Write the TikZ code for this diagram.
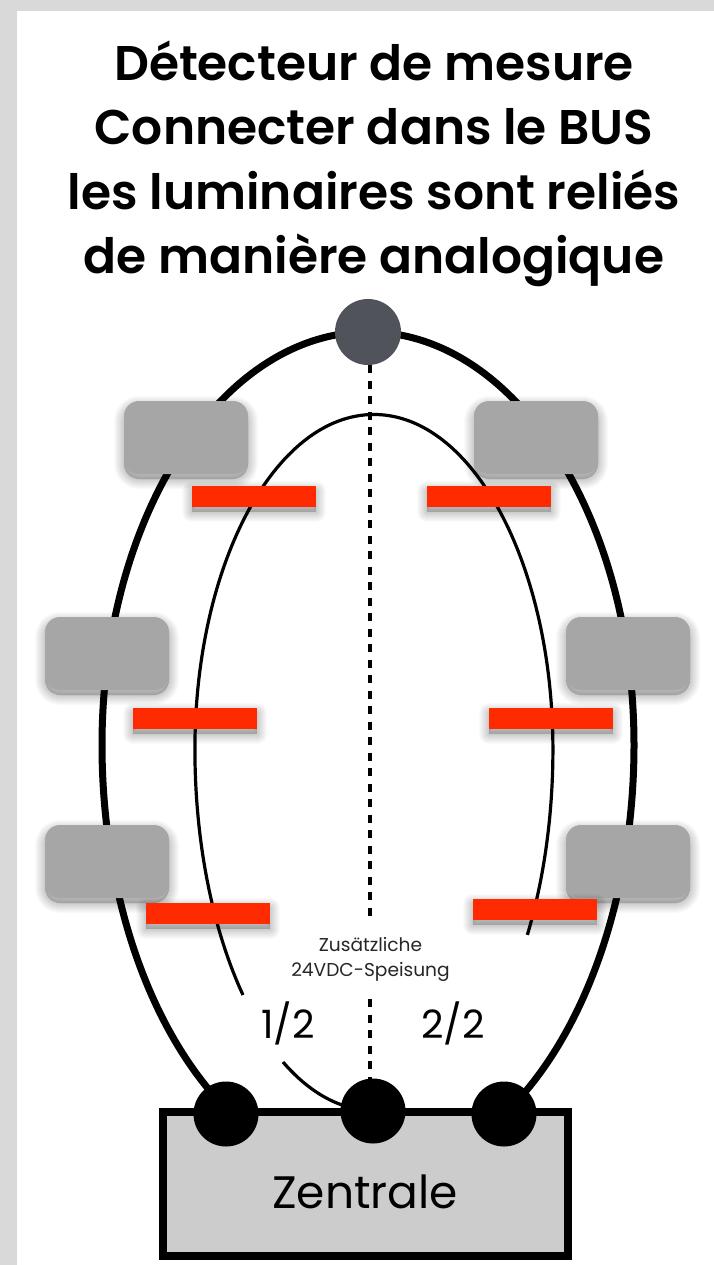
\documentclass[tikz,border=0pt]{standalone}
\usepackage{fontspec}
\setmainfont{Poppins}[BoldFont={Poppins SemiBold}]
\usetikzlibrary{calc}
\definecolor{pagegrey}{HTML}{D9D9D9}
\definecolor{lampgrey}{HTML}{A6A6A6}
\definecolor{barred}{HTML}{FF2A00}
\definecolor{topgrey}{HTML}{50535A}
\definecolor{basegrey}{HTML}{CCCCCC}
\tikzset{
  shadowlayer/.style={preaction={draw=black,fill=black,draw opacity=.02,fill opacity=.02,line width=#1,line join=round,transform canvas={yshift=-5pt}}},
  softshadow/.style={shadowlayer=20pt,shadowlayer=18pt,shadowlayer=16pt,shadowlayer=14pt,shadowlayer=12pt,shadowlayer=10pt,shadowlayer=8pt,shadowlayer=6pt,shadowlayer=4pt,shadowlayer=2pt},
  lamp/.style={softshadow,fill=lampgrey,rounded corners=15pt,minimum width=124pt,minimum height=73pt,inner sep=0pt},
  redbar/.style={softshadow,fill=barred,minimum width=124pt,minimum height=21pt,inner sep=0pt},
  terminal/.style={circle,fill=black,minimum size=65pt,inner sep=0pt},
  busline/.style={draw=black,line width=7pt},
  thinline/.style={draw=black,line width=3.2pt},
  feedline/.style={draw=black,line width=4pt,dash pattern=on 8pt off 7.5pt},
}
\begin{document}
\begin{tikzpicture}[x=1pt,y=-1pt]
\useasboundingbox (0,0) rectangle (714,1265);
\fill[pagegrey] (0,0) rectangle (714,1265);
\fill[white] (17,11) rectangle (714,1265);

% fixed anchors
\coordinate (dotLc) at (226,1114);
\coordinate (dotMc) at (373,1111);
\coordinate (dotRc) at (504,1114);
\coordinate (topc) at (368,332);
\coordinate (innerGapA) at (243,995);
\coordinate (innerGapB) at (283,1062);
\coordinate (feedA) at (370,365);
\coordinate (feedB) at (370,917);
\coordinate (feedC) at (370,999);
\coordinate (feedD) at (370,1080);

% bus ring
\draw[busline] (topc) arc[start angle=270,end angle=180,x radius=266,y radius=413]
  arc[start angle=180,end angle=122,x radius=266,y radius=430] -- (dotLc);
\draw[busline] (topc) arc[start angle=270,end angle=360,x radius=266,y radius=413]
  arc[start angle=0,end angle=58,x radius=266,y radius=430] -- (dotRc);

% inner loop
\draw[thinline] (innerGapA) arc[start angle=137,end angle=180,x radius=179,y radius=360]
  arc[start angle=180,end angle=360,x radius=179,y radius=335]
  arc[start angle=0,end angle=31,x radius=179,y radius=360];
\draw[thinline] (innerGapB) arc[start angle=120,end angle=97,x radius=179,y radius=360];

% feed line
\draw[feedline] (feedA) -- (feedB);
\draw[feedline] (feedC) -- (feedD);

% base
\node[draw=black,line width=8pt,fill=basegrey,minimum width=405pt,minimum height=144pt,inner sep=0pt] (base) at (365.5,1184) {};
\node[font=\fontsize{45.5}{46}\selectfont,inner sep=0pt] (baselabel) at (365,1192) {Zentrale};

\node[terminal] (dotL) at (dotLc) {};
\node[terminal] (dotM) at (dotMc) {};
\node[terminal] (dotR) at (dotRc) {};
\node[circle,fill=topgrey,minimum size=66pt,inner sep=0pt] (top) at (topc) {};

% lamps
\node[lamp] (l1) at (186,437.5) {};
\node[lamp] (l2) at (536,437.5) {};
\node[lamp] (l3) at (107,653.5) {};
\node[lamp] (l4) at (628,653.5) {};
\node[lamp] (l5) at (107,861.5) {};
\node[lamp] (l6) at (628,861.5) {};

% detectors
\node[redbar] (r1) at (254,496.5) {};
\node[redbar] (r2) at (489,496.5) {};
\node[redbar] (r3) at (195,718.5) {};
\node[redbar] (r4) at (551,718.5) {};
\node[redbar] (r5) at (207.5,913.5) {};
\node[redbar] (r6) at (535,909.5) {};

% labels
\node[font=\fontsize{18.6}{25}\selectfont,align=center,inner sep=0pt,text=black!85] (feedlabel) at (370.5,959) {Zusätzliche\\24VDC-Speisung};
\node[font=\fontsize{39}{39}\selectfont,inner sep=0pt] (half1) at (288,1023) {1/2};
\node[font=\fontsize{39}{39}\selectfont,inner sep=0pt] (half2) at (453,1023) {2/2};

\node[font=\bfseries\fontsize{48.7}{64.5}\selectfont,align=center,inner sep=0pt] (title) at (374,164) {Détecteur de mesure\\Connecter dans le BUS\\les luminaires sont reliés\\de manière analogique};
\end{tikzpicture}
\end{document}
